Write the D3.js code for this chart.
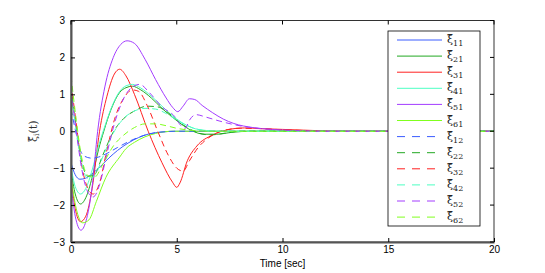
<!DOCTYPE html>
<html>
<head>
<meta charset="utf-8">
<script src="https://cdn.jsdelivr.net/npm/d3@7"></script>
<style>
body { margin: 0; background: #fff; }
text { font-family: "Liberation Sans", Arial, Helvetica, sans-serif; }
</style>
</head>
<body>
<div id="chart"></div>
<script>
var W = 545, H = 273;

// [time, value] points
var xi11 = [[0,-0.85],[0.2,-1.18],[0.42,-1.3],[0.7,-1.27],[1,-1.15],[1.4,-0.95],[1.8,-0.72],[2.2,-0.52],[2.7,-0.32],[3.2,-0.17],[3.7,-0.07],[4.3,-0.02],[5,0],[20,0]];
var xi21 = [[0,-1.05],[0.2,-1.7],[0.45,-1.97],[0.7,-1.8],[1,-1.25],[1.3,-0.5],[1.55,0],[1.9,0.6],[2.3,1.05],[2.6,1.18],[2.9,1.22],[3.3,1.12],[3.8,0.9],[4.3,0.62],[4.8,0.38],[5.2,0.2],[5.7,0.02],[6.3,-0.08],[6.9,-0.08],[7.6,-0.03],[8.5,0],[20,0]];
var xi31 = [[0,-1.2],[0.2,-2.1],[0.45,-2.45],[0.7,-2.3],[1,-1.55],[1.35,0],[1.7,0.95],[2.05,1.55],[2.3,1.68],[2.6,1.5],[3,1.0],[3.65,0],[4.3,-0.85],[4.8,-1.38],[5,-1.52],[5.15,-1.4],[5.5,-0.8],[5.95,-0.4],[6.7,-0.1],[7.4,0.04],[8.2,0.09],[9,0.07],[10,0.05],[11,0.03],[12,0.01],[13,0],[20,0]];
var xi41 = [[0,-0.95],[0.2,-1.5],[0.45,-1.7],[0.7,-1.55],[1,-1.05],[1.3,-0.4],[1.55,0.05],[1.9,0.62],[2.3,1.08],[2.6,1.23],[2.9,1.27],[3.3,1.17],[3.8,0.95],[4.3,0.68],[4.8,0.42],[5.2,0.25],[5.7,0.1],[6.4,0.02],[7,0],[20,0]];
var xi51 = [[0,-1.45],[0.2,-2.3],[0.47,-2.68],[0.7,-2.45],[1,-1.5],[1.26,0],[1.6,1.2],[2,2.0],[2.35,2.35],[2.65,2.45],[3,2.38],[3.5,1.95],[4,1.4],[4.5,0.9],[4.8,0.65],[5.05,0.53],[5.3,0.68],[5.6,0.88],[5.85,0.86],[6.2,0.7],[6.7,0.5],[7.2,0.33],[7.7,0.21],[8.6,0.1],[9.5,0.05],[10.5,0.02],[11.5,0],[20,0]];
var xi61 = [[0,-1.25],[0.25,-2.1],[0.55,-2.48],[0.85,-2.4],[1.2,-1.9],[1.65,-1.25],[2.3,-0.7],[2.6,-0.47],[3,-0.3],[3.5,-0.15],[4,-0.06],[4.8,0],[20,0]];
var xi12 = [[0,0.6],[0.2,0.05],[0.4,-0.45],[0.65,-0.68],[1,-0.73],[1.3,-0.7],[1.7,-0.6],[2.2,-0.44],[2.8,-0.26],[3.4,-0.12],[4,-0.04],[5,0],[20,0]];
var xi22 = [[0,1.2],[0.25,0.1],[0.5,-0.8],[0.8,-1.22],[1.1,-1.18],[1.5,-0.65],[2,-0.02],[2.5,0.35],[3,0.55],[3.6,0.68],[4.1,0.66],[4.6,0.5],[5.1,0.25],[5.5,0.1],[6,-0.04],[6.6,-0.1],[7.3,-0.05],[8,0],[20,0]];
var xi32 = [[0,1.3],[0.25,0.2],[0.5,-0.9],[0.8,-1.55],[1.05,-1.7],[1.35,-1.4],[1.7,-0.5],[2.1,0.4],[2.5,0.9],[2.9,1.12],[3.2,1.08],[3.6,0.7],[4.1,0],[4.6,-0.65],[5,-1.0],[5.3,-1.08],[5.6,-0.8],[6,-0.45],[6.5,-0.18],[7.2,0.02],[8,0.08],[9,0.07],[10,0.04],[11,0.02],[12,0],[20,0]];
var xi42 = [[0,1.0],[0.25,0],[0.5,-0.85],[0.8,-1.28],[1.1,-1.22],[1.5,-0.7],[2,-0.05],[2.5,0.35],[3,0.55],[3.5,0.62],[4,0.6],[4.5,0.48],[5,0.3],[5.5,0.15],[6,0.05],[6.8,0],[20,0]];
var xi52 = [[0,1.1],[0.25,0],[0.5,-1.0],[0.8,-1.65],[1.05,-1.78],[1.35,-1.45],[1.7,-0.6],[2.1,0.3],[2.5,0.9],[2.9,1.2],[3.25,1.27],[3.7,1.05],[4.3,0.66],[4.9,0.4],[5.2,0.15],[5.4,0.08],[5.6,0.3],[5.9,0.45],[6.4,0.38],[7,0.28],[7.7,0.18],[8.5,0.1],[9.5,0.05],[10.5,0.02],[12,0],[20,0]];
var xi62 = [[0,1.5],[0.25,0.3],[0.5,-0.7],[0.8,-1.2],[1.1,-1.25],[1.5,-0.9],[2,-0.4],[2.5,-0.1],[3,0.1],[3.5,0.2],[4,0.2],[4.5,0.15],[5,0.08],[5.8,0.02],[6.5,0],[20,0]];

var series = [xi11, xi21, xi31, xi41, xi51, xi61, xi12, xi22, xi32, xi42, xi52, xi62];
var subs = ["11", "21", "31", "41", "51", "61", "12", "22", "32", "42", "52", "62"];
var colors = ["#3a5cff", "#22a822", "#ff2020", "#4dffc3", "#a33cff", "#80ff1e"];

var xTicks = [0, 5, 10, 15, 20];
var yTicks = [-3, -2, -1, 0, 1, 2, 3];

var pl = 71, pr = 494, pt = 20.5, pb = 242;

var x = d3.scaleLinear().domain([0, 20]).range([pl, pr]);
var y = d3.scaleLinear().domain([-3, 3]).range([pb, pt]);

var svg = d3.select("#chart").append("svg")
	.attr("width", W)
	.attr("height", H);

svg.append("defs").append("clipPath")
	.attr("id", "clip")
	.append("rect")
	.attr("x", pl)
	.attr("y", pt)
	.attr("width", pr - pl)
	.attr("height", pb - pt);

var line = d3.line()
	.x(d => x(d[0]))
	.y(d => y(d[1]))
	.curve(d3.curveMonotoneX);

var g = svg.append("g").attr("clip-path", "url(#clip)");

g.selectAll("path")
	.data(series)
	.enter()
	.append("path")
	.attr("d", line)
	.attr("fill", "none")
	.attr("stroke", (d, i) => colors[i % 6])
	.attr("stroke-width", 1)
	.attr("stroke-dasharray", (d, i) => i < 6 ? null : "6,4");

// axes box
svg.append("rect")
	.attr("x", pl)
	.attr("y", pt)
	.attr("width", pr - pl)
	.attr("height", pb - pt)
	.attr("fill", "none")
	.attr("stroke", "#000")
	.attr("stroke-width", 0.8);

var xAxis = d3.axisBottom(x).tickValues(xTicks).tickSizeInner(-4).tickSizeOuter(0).tickPadding(4);
var yAxis = d3.axisLeft(y).tickValues(yTicks).tickSizeInner(-4).tickSizeOuter(0).tickPadding(6)
	.tickFormat(d => d < 0 ? "\u2212" + Math.abs(d) : d);

svg.append("g")
	.attr("transform", "translate(0," + pb + ")")
	.call(xAxis)
	.call(a => a.select(".domain").attr("stroke", "#555").attr("stroke-width", 2))
	.call(a => a.selectAll("text").style("font-size", "10px").attr("fill", "#000"));

svg.append("g")
	.attr("transform", "translate(" + pl + ",0)")
	.call(yAxis)
	.call(a => a.select(".domain").attr("stroke", "#555").attr("stroke-width", 2))
	.call(a => a.selectAll("text").style("font-size", "10px").attr("fill", "#000"));

// top/right ticks
svg.append("g").selectAll("line")
	.data(xTicks)
	.enter()
	.append("line")
	.attr("x1", d => x(d))
	.attr("x2", d => x(d))
	.attr("y1", pt)
	.attr("y2", pt + 4)
	.attr("stroke", "#000");

svg.append("g").selectAll("line")
	.data(yTicks)
	.enter()
	.append("line")
	.attr("x1", pr)
	.attr("x2", pr - 4)
	.attr("y1", d => y(d))
	.attr("y2", d => y(d))
	.attr("stroke", "#000");

svg.append("text")
	.attr("x", (pl + pr) / 2)
	.attr("y", 267)
	.attr("text-anchor", "middle")
	.style("font-size", "10px")
	.text("Time [sec]");

var yl = svg.append("text")
	.attr("transform", "translate(37," + y(0) + ") rotate(-90)")
	.attr("text-anchor", "middle")
	.style("font-family", "'DejaVu Serif', serif")
	.style("font-size", "11px")
	.attr("fill", "#333");
yl.append("tspan").text("\u03BE\u0303");
yl.append("tspan").attr("dy", 2).style("font-size", "7.5px").text("i");
yl.append("tspan").attr("dy", -2).text("(t)");

// legend
var lx = 388, ly = 31, lw = 92, lh = 195;
var leg = svg.append("g");
leg.append("rect")
	.attr("x", lx)
	.attr("y", ly)
	.attr("width", lw)
	.attr("height", lh)
	.attr("fill", "#fff")
	.attr("stroke", "#000")
	.attr("stroke-width", 0.8);

var rows = leg.selectAll("g.row")
	.data(subs)
	.enter()
	.append("g")
	.attr("class", "row")
	.attr("transform", (d, i) => "translate(0," + (ly + 9 + i * 16.1) + ")");

rows.append("line")
	.attr("x1", lx + 9)
	.attr("x2", lx + 54)
	.attr("y1", 0)
	.attr("y2", 0)
	.attr("stroke", (d, i) => colors[i % 6])
	.attr("stroke-width", 1)
	.attr("stroke-dasharray", (d, i) => i < 6 ? null : "8,7");

var lt = rows.append("text")
	.attr("x", lx + 59)
	.attr("y", 3)
	.style("font-family", "'DejaVu Serif', serif")
	.style("font-size", "11px")
	.attr("fill", "#222");
lt.append("tspan").text("\u03BE\u0303");
lt.append("tspan").attr("dy", 3).style("font-size", "8px").text(d => d);
</script>
</body>
</html>
